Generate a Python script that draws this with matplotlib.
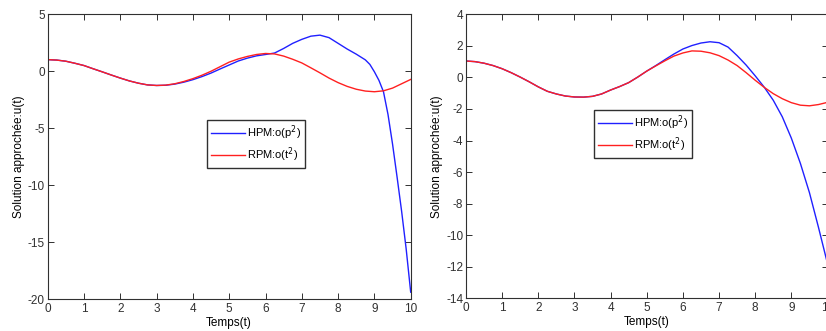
import matplotlib
matplotlib.use("Agg")
import matplotlib.pyplot as plt

plt.rcParams['font.family'] = ['Liberation Sans', 'DejaVu Sans']
plt.rcParams['axes.unicode_minus'] = False

# ---- Left panel data ----
t_left_rpm = [0, 0.25, 0.5, 0.75, 1, 1.25, 1.5, 1.75, 2, 2.25, 2.5, 2.75, 3, 3.25, 3.5, 3.75,
              4, 4.25, 4.5, 4.75, 5, 5.25, 5.5, 5.75, 6, 6.25, 6.5, 6.75, 7, 7.25, 7.5, 7.75,
              8, 8.25, 8.5, 8.75, 9, 9.25, 9.5, 9.75, 10]
u_left_rpm = [1.02, 0.98, 0.88, 0.7, 0.5, 0.22, -0.05, -0.33, -0.6, -0.85, -1.05, -1.2, -1.25, -1.22, -1.1, -0.9,
              -0.65, -0.35, 0.0, 0.4, 0.8, 1.08, 1.3, 1.47, 1.56, 1.52, 1.33, 1.05, 0.73, 0.3, -0.14, -0.6,
              -1.0, -1.33, -1.58, -1.74, -1.8, -1.72, -1.48, -1.1, -0.72]

t_left_hpm = [0, 0.25, 0.5, 0.75, 1, 1.25, 1.5, 1.75, 2, 2.25, 2.5, 2.75, 3, 3.25, 3.5, 3.75,
              4, 4.25, 4.5, 4.75, 5, 5.25, 5.5, 5.75, 6, 6.25, 6.5, 6.75, 7, 7.25, 7.5, 7.75,
              8, 8.25, 8.5, 8.75, 8.875, 9, 9.125, 9.25, 9.375, 9.5, 9.625, 9.75, 9.875, 10]
u_left_hpm = [1.02, 0.98, 0.88, 0.7, 0.5, 0.22, -0.05, -0.33, -0.6, -0.85, -1.05, -1.2, -1.25, -1.23, -1.13, -0.96,
              -0.74, -0.47, -0.16, 0.2, 0.55, 0.9, 1.15, 1.35, 1.47, 1.6, 2.0, 2.45, 2.8, 3.08, 3.17, 2.95,
              2.45, 1.95, 1.5, 1.0, 0.6, -0.05, -0.8, -1.8, -3.8, -6.4, -9.3, -12.3, -15.6, -19.4]

# ---- Right panel data ----
t_right_rpm = [0, 0.25, 0.5, 0.75, 1, 1.25, 1.5, 1.75, 2, 2.25, 2.5, 2.75, 3, 3.25, 3.5, 3.75,
               4, 4.25, 4.5, 4.75, 5, 5.25, 5.5, 5.75, 6, 6.25, 6.5, 6.75, 7, 7.25, 7.5, 7.75,
               8, 8.25, 8.5, 8.75, 9, 9.25, 9.5, 9.75, 10]
u_right_rpm = [1.04, 1.0, 0.9, 0.75, 0.55, 0.3, 0.02, -0.28, -0.6, -0.88, -1.05, -1.18, -1.24, -1.25, -1.2, -1.05,
               -0.8, -0.58, -0.33, 0.02, 0.4, 0.73, 1.05, 1.35, 1.55, 1.68, 1.66, 1.56, 1.38, 1.1, 0.75, 0.3,
               -0.18, -0.63, -1.03, -1.35, -1.6, -1.76, -1.8, -1.72, -1.58]

t_right_hpm = t_right_rpm
u_right_hpm = [1.04, 1.0, 0.9, 0.75, 0.55, 0.3, 0.02, -0.28, -0.6, -0.88, -1.05, -1.18, -1.24, -1.25, -1.2, -1.05,
               -0.8, -0.58, -0.33, 0.02, 0.4, 0.75, 1.12, 1.48, 1.8, 2.02, 2.18, 2.26, 2.2, 1.92, 1.38, 0.78,
               0.1, -0.62, -1.45, -2.5, -3.85, -5.45, -7.3, -9.5, -11.8]

x_ticks = list(range(0, 11))
left_yticks = [5, 0, -5, -10, -15, -20]
right_yticks = [4, 2, 0, -2, -4, -6, -8, -10, -12, -14]

labels = ['HPM:o(p$^2$)', 'RPM:o(t$^2$)']

W, H = 826, 331
fig = plt.figure(figsize=(W / 100, H / 100), dpi=100)

def style(ax):
    for s in ax.spines.values():
        s.set_color('#303030')
        s.set_linewidth(0.8)
    ax.tick_params(direction='in', top=True, right=True, length=4, width=0.7,
                   labelsize=8.5, colors='#303030', pad=2)
    ax.tick_params(axis='x', pad=3)
    ax.set_xlabel('Temps(t)', fontsize=8.5, labelpad=1)
    ax.set_ylabel('Solution approchée:u(t)', fontsize=8.5, labelpad=2)

def add_legend(ax, anchor):
    ax.legend(loc='upper left', bbox_to_anchor=anchor, fontsize=8, frameon=True,
              fancybox=False, edgecolor='#303030', framealpha=1, handlelength=3.0,
              borderpad=0.35, labelspacing=0.3, handletextpad=0.2, borderaxespad=0)

ax1 = fig.add_axes([47.7 / W, (H - 299) / H, 363 / W, 284.7 / H])
ax1.plot(t_left_hpm, u_left_hpm, color='#2020ff', lw=1.0, label=labels[0])
ax1.plot(t_left_rpm, u_left_rpm, color='#ff2020', lw=1.0, label=labels[1])
ax1.set_xlim(0, 10)
ax1.set_ylim(-20, 5)
ax1.set_xticks(x_ticks)
ax1.set_yticks(left_yticks)
style(ax1)
add_legend(ax1, (0.44, 0.63))

ax2 = fig.add_axes([466 / W, (H - 298.3) / H, 361.5 / W, 284 / H])
ax2.plot(t_right_hpm, u_right_hpm, color='#2020ff', lw=1.0, label=labels[0])
ax2.plot(t_right_rpm, u_right_rpm, color='#ff2020', lw=1.0, label=labels[1])
ax2.set_xlim(0, 10)
ax2.set_ylim(-14, 4)
ax2.set_xticks(x_ticks)
ax2.set_yticks(right_yticks)
style(ax2)
add_legend(ax2, (0.355, 0.663))

fig.savefig('out.png', dpi=100)
